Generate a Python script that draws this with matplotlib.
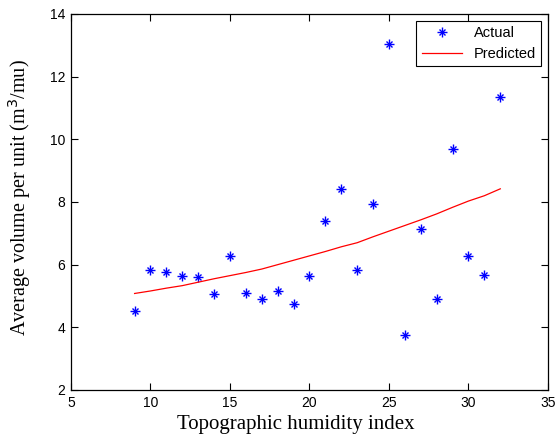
import matplotlib
matplotlib.use("Agg")
import matplotlib.pyplot as plt
from matplotlib.legend_handler import HandlerTuple

# 数据
tin = [9, 10, 11, 12, 13, 14, 15, 16, 17, 18, 19, 20,
       21, 22, 23, 24, 25, 26, 27, 28, 29, 30, 31, 32]
actual = [4.52, 5.82, 5.76, 5.65, 5.62, 5.05, 6.29, 5.10, 4.89, 5.16, 4.73, 5.64,
          7.40, 8.42, 5.82, 7.93, 13.03, 3.74, 7.13, 4.91, 9.68, 6.28, 5.68, 11.34]
predicted = [5.08, 5.16, 5.25, 5.33, 5.44, 5.55, 5.65, 5.75, 5.86, 6.00, 6.14, 6.28,
             6.42, 6.57, 6.70, 6.89, 7.07, 7.25, 7.43, 7.62, 7.83, 8.03, 8.20, 8.42]

fig = plt.figure(figsize=(5.56, 4.48), dpi=100)
ax = fig.add_axes([0.1277, 0.1295, 0.8579, 0.8393])

# MATLAB风格的星号：十字 + 较小的斜叉
p1, = ax.plot(tin, actual, linestyle="none", marker="+", markersize=7,
              markeredgewidth=1.0, color="blue")
p2, = ax.plot(tin, actual, linestyle="none", marker="x", markersize=4.2,
              markeredgewidth=1.0, color="blue")
ln, = ax.plot(tin, predicted, color="red", linewidth=0.9)

ax.set_xlim(5, 35)
ax.set_ylim(2, 14)
ax.set_xticks(range(5, 36, 5))
ax.set_yticks(range(2, 15, 2))
ax.tick_params(direction="in", top=True, right=True, length=5, width=0.8,
               labelsize=10, pad=4)
for lbl in ax.get_xticklabels() + ax.get_yticklabels():
    lbl.set_fontfamily("Liberation Sans")
for s in ax.spines.values():
    s.set_linewidth(0.9)

ax.set_xlabel("Topographic humidity index", family="Liberation Serif", fontsize=15)
ax.set_ylabel("Average volume per unit (m$^3$/mu)", family="Liberation Serif",
              fontsize=14.5)
ax.xaxis.set_label_coords(0.472, -0.066, transform=ax.transAxes)
ax.yaxis.set_label_coords(-0.08, 0.512, transform=ax.transAxes)

leg = ax.legend([(p1, p2), ln], ["Actual", "Predicted"],
                handler_map={tuple: HandlerTuple(ndivide=1)},
                loc="upper right", prop={"family": "Liberation Sans", "size": 10.5},
                fancybox=False, edgecolor="black", framealpha=1, borderpad=0.35,
                handlelength=2.8, borderaxespad=0.45)
leg.get_frame().set_linewidth(0.8)

plt.savefig("out.png")
